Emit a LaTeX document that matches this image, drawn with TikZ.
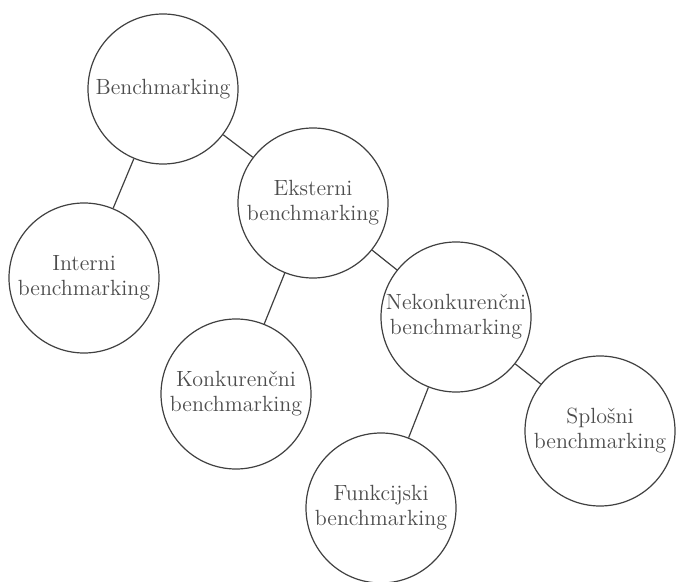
\documentclass[tikz,border=0pt]{standalone}
\usepackage{tikz}

\begin{document}
\begin{tikzpicture}[x=0.5pt,y=-0.5pt]
\tikzset{vertex/.style = {shape=circle,draw=black!75,line width=0.6pt,minimum size=75pt,inner sep=0pt,align=center,text=black!70,font=\fontsize{11}{12.5}\selectfont}}
\tikzset{edge/.style = {draw=black!75,line width=0.6pt}}
\useasboundingbox (0,0) rectangle (684,582);
\node[vertex] (bm) at (163,89) {Benchmarking};
\node[vertex] (int) at (84,278) {Interni\\benchmarking};
\node[vertex] (ext) at (313,203) {Eksterni\\benchmarking};
\node[vertex] (kon) at (236,394) {Konkurenčni\\benchmarking};
\node[vertex] (nek) at (456,317) {Nekonkurenčni\\benchmarking};
\node[vertex] (spl) at (600,431) {Splošni\\benchmarking};
\node[vertex] (fun) at (381,508) {Funkcijski\\benchmarking};
\path
(bm) edge[edge] (int)
(bm) edge[edge] (ext)
(ext) edge[edge] (kon)
(ext) edge[edge] (nek)
(nek) edge[edge] (spl)
(nek) edge[edge] (fun);
\end{tikzpicture}
\end{document}
